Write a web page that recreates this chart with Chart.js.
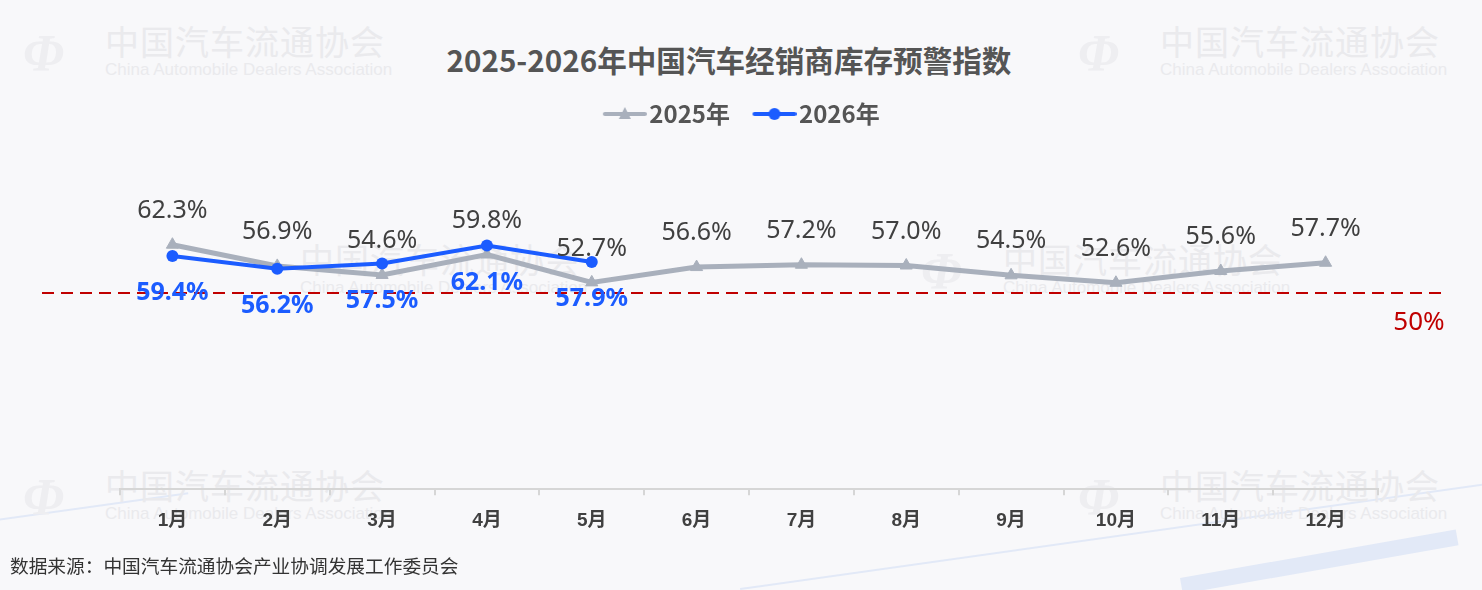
<!DOCTYPE html>
<html lang="zh-CN">
<head>
<meta charset="utf-8">
<title>2025-2026年中国汽车经销商库存预警指数</title>
<script src="https://cdn.jsdelivr.net/npm/chart.js@4.4.1/dist/chart.umd.min.js"></script>
<style>
  html, body { margin: 0; padding: 0; }
  body {
    width: 1482px; height: 590px; position: relative; overflow: hidden;
    background: #f8f8fa; font-family: "Noto Sans CJK SC", sans-serif;
  }
  .wm { position: absolute; color: #eaeaed; pointer-events: none; white-space: nowrap; }
  .wm .cn { font-family: "Noto Sans CJK SC"; font-size: 34px; line-height: 38px; letter-spacing: 1px; }
  .wm .en { font-family: "Liberation Sans"; font-size: 17px; line-height: 20px; }
  .wm .logo { position: absolute; left: -82px; top: 2px; font: italic bold 52px "Liberation Serif"; color: #eeeef1; }
  .deco { position: absolute; background: #e2e9f7; transform-origin: left top; }
  #wrap { position: absolute; left: 0; top: 0; width: 1482px; height: 590px; }
  .title {
    position: absolute; left: 0; top: 42px; width: 1458px; text-align: center;
    font: bold 29.6px/36px "Noto Sans CJK SC"; color: #555555;
  }
  .source { position: absolute; left: 10px; top: 551px; font-size: 18.7px; color: #333; }
</style>
</head>
<body>
<div class="deco" style="left:740px;top:588px;width:760px;height:2px;transform:rotate(-8deg)"></div>
<div class="deco" style="left:1180px;top:578px;width:280px;height:16px;transform:rotate(-10deg)"></div>
<div class="deco" style="left:-10px;top:520px;width:200px;height:2px;transform:rotate(-8deg)"></div>

<div class="wm" style="left:105px;top:22px"><span class="logo">Φ</span><div class="cn">中国汽车流通协会</div><div class="en">China Automobile Dealers Association</div></div>
<div class="wm" style="left:1160px;top:22px"><span class="logo">Φ</span><div class="cn">中国汽车流通协会</div><div class="en">China Automobile Dealers Association</div></div>
<div class="wm" style="left:1003px;top:240px"><span class="logo">Φ</span><div class="cn">中国汽车流通协会</div><div class="en">China Automobile Dealers Association</div></div>
<div class="wm" style="left:300px;top:240px"><div class="cn">中国汽车流通协会</div><div class="en">China Automobile Dealers Association</div></div>
<div class="wm" style="left:105px;top:466px"><span class="logo">Φ</span><div class="cn">中国汽车流通协会</div><div class="en">China Automobile Dealers Association</div></div>
<div class="wm" style="left:1160px;top:466px"><span class="logo">Φ</span><div class="cn">中国汽车流通协会</div><div class="en">China Automobile Dealers Association</div></div>

<div class="title">2025-2026年中国汽车经销商库存预警指数</div>
<div id="wrap"><canvas id="chart"></canvas></div>
<div class="source">数据来源：中国汽车流通协会产业协调发展工作委员会</div>

<script>
const MONTHS = ["1月", "2月", "3月", "4月", "5月", "6月", "7月", "8月", "9月", "10月", "11月", "12月"];
const SERIES_NAMES = ["2025年", "2026年"];
const VALUES_2025 = [62.3, 56.9, 54.6, 59.8, 52.7, 56.6, 57.2, 57.0, 54.5, 52.6, 55.6, 57.7];
const VALUES_2026 = [59.4, 56.2, 57.5, 62.1, 57.9];
const WARNING_LINE = 50;
const Y_MAX = 90;

const GRAY = "#a9b0bc";
const BLUE = "#1b5cff";
const RED = "#c00000";

// label look for each series: offset from the point, font, colour
const LABEL_STYLE = [
  { dy: -34, font: '25px "Noto Sans"', color: "#404040" },
  { dy: 37, font: 'bold 25px "Noto Sans"', color: BLUE },
];

// legend swatch: line + marker, drawn on the right part of a wider transparent canvas
// so the gap before the next legend entry matches the reference
function legendIcon(color, style) {
  const c = document.createElement("canvas");
  c.width = 66;
  c.height = 16;
  const g = c.getContext("2d");
  g.strokeStyle = color;
  g.lineWidth = 4;
  g.lineCap = "round";
  g.beginPath();
  g.moveTo(24, 8);
  g.lineTo(64, 8);
  g.stroke();
  g.fillStyle = color;
  g.beginPath();
  if (style === "triangle") {
    g.moveTo(44, 1);
    g.lineTo(50, 13);
    g.lineTo(38, 13);
    g.closePath();
  } else {
    g.arc(44, 8, 6, 0, Math.PI * 2);
  }
  g.fill();
  return c;
}

const ICONS = [legendIcon(GRAY, "triangle"), legendIcon(BLUE, "circle")];

const warningLine = {
  id: "warningLine",
  beforeDatasetsDraw(chart) {
    const { ctx } = chart;
    const py = chart.scales.y.getPixelForValue(WARNING_LINE);
    ctx.save();
    ctx.strokeStyle = RED;
    ctx.lineWidth = 2;
    ctx.setLineDash([12, 7]);
    ctx.beginPath();
    ctx.moveTo(42, py);
    ctx.lineTo(chart.width - 35, py);
    ctx.stroke();
    ctx.setLineDash([]);
    ctx.fillStyle = RED;
    ctx.font = '26px "Noto Sans"';
    ctx.textAlign = "center";
    ctx.textBaseline = "middle";
    ctx.fillText(WARNING_LINE + "%", chart.width - 63, py + 30);
    ctx.restore();
  },
};

const pointLabels = {
  id: "pointLabels",
  afterDatasetsDraw(chart) {
    const { ctx } = chart;
    ctx.save();
    ctx.textAlign = "center";
    ctx.textBaseline = "middle";
    chart.data.datasets.forEach((ds, i) => {
      const st = LABEL_STYLE[i];
      ctx.font = st.font;
      ctx.fillStyle = st.color;
      chart.getDatasetMeta(i).data.forEach((pt, j) => {
        ctx.fillText(ds.data[j].toFixed(1) + "%", pt.x, pt.y + st.dy);
      });
    });
    ctx.restore();
  },
};

const hiddenAxis = (width, position) => ({
  type: "linear",
  position,
  ticks: { display: false },
  grid: { display: false },
  border: { display: false },
  afterFit(scale) { scale.width = width; },
});

new Chart(document.getElementById("chart"), {
  type: "line",
  data: {
    labels: MONTHS,
    datasets: [
      {
        label: SERIES_NAMES[0],
        data: VALUES_2025,
        borderColor: GRAY,
        backgroundColor: GRAY,
        borderWidth: 5,
        pointStyle: "triangle",
        pointRadius: 7,
        pointBorderWidth: 1,
        pointBackgroundColor: GRAY,
        pointBorderColor: GRAY,
        tension: 0,
        order: 1,
      },
      {
        label: SERIES_NAMES[1],
        data: VALUES_2026,
        borderColor: BLUE,
        backgroundColor: BLUE,
        borderWidth: 4,
        pointStyle: "circle",
        pointRadius: 6,
        pointBorderWidth: 0,
        pointBackgroundColor: BLUE,
        tension: 0,
        order: 0,
      },
    ],
  },
  options: {
    responsive: true,
    maintainAspectRatio: false,
    animation: false,
    layout: { padding: { left: 0, right: 12, top: 92, bottom: 44 } },
    scales: {
      x: {
        offset: true,
        grid: { display: true, offset: true, drawOnChartArea: false, drawTicks: true, tickLength: 6, color: "#d6d6d6", lineWidth: 2 },
        border: { display: true, color: "#d6d6d6", width: 2 },
        ticks: { color: "#404040", padding: 14, font: { family: '"Liberation Sans", "Noto Sans CJK SC"', size: 19, weight: "bold" } },
      },
      y: { ...hiddenAxis(120, "left"), min: 0, max: Y_MAX },
      yRight: hiddenAxis(92, "right"),
    },
    plugins: {
      title: { display: false },
      legend: {
        display: true,
        labels: {
          usePointStyle: true,
          pointStyleWidth: 47,
          color: "#555555",
          padding: 10,
          font: { family: '"Noto Sans CJK SC"', size: 24, weight: "bold" },
          generateLabels: (chart) =>
            chart.data.datasets.map((ds, i) => ({
              text: ds.label,
              pointStyle: ICONS[i],
              fillStyle: ds.borderColor,
              strokeStyle: ds.borderColor,
              lineWidth: 0,
              fontColor: "#555555",
              datasetIndex: i,
              hidden: false,
            })),
        },
      },
      tooltip: { enabled: false },
    },
  },
  plugins: [warningLine, pointLabels],
});
</script>
</body>
</html>
